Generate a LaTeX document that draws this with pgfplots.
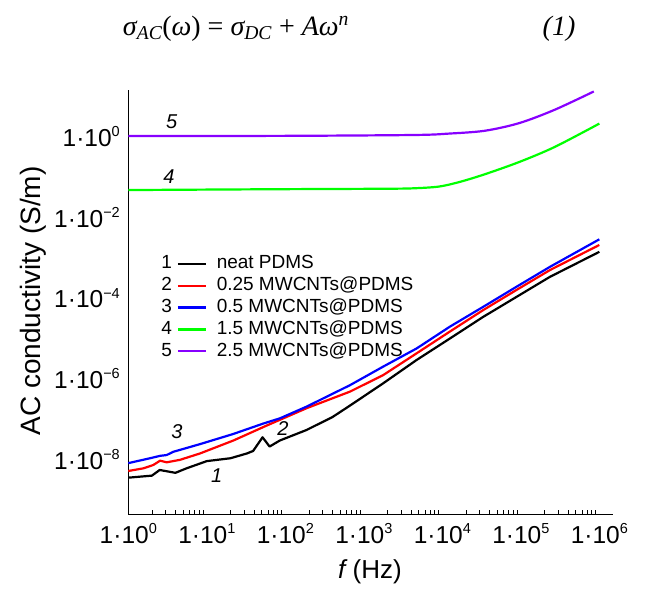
\documentclass[border=0pt]{standalone}
\usepackage{fontspec}
\setmainfont{Liberation Sans}
\newfontfamily\eqfont{Liberation Serif}
\usepackage{pgfplots}
\pgfplotsset{compat=1.18}
\newcommand\sups[1]{\raisebox{0.40em}{\fontsize{14.5}{14.5}\selectfont #1}}
\definecolor{cgreen}{RGB}{0,255,0}
\definecolor{cpurple}{RGB}{135,0,255}
\newcommand\tickfont{\fontsize{24.5}{26}\selectfont}
\newcommand\legfont{\fontsize{19}{21}\selectfont}
\newcommand\numfont{\fontsize{20}{22}\selectfont\itshape}
\pgfplotsset{numleg/.style={legend image code/.code={\node[anchor=east,inner sep=0pt,text=black,font=\legfont] at (-6pt,0pt) {#1}; \draw[##1, line width=2.2pt] (0pt,0pt) -- (28pt,0pt);}}}
\begin{document}
\begin{tikzpicture}
\path[use as bounding box] (0pt,0pt) rectangle (646pt,-590pt);
\node[anchor=base, font=\eqfont\fontsize{28}{30}\selectfont] at (236pt,-35pt)
  {\itshape σ\textsubscript{AC}\upshape(\itshape ω\upshape) = \itshape σ\textsubscript{DC} \upshape+ \itshape Aω\textsuperscript{n}};
\node[anchor=base, font=\eqfont\fontsize{28}{30}\selectfont\itshape] at (559pt,-35pt) {(1)};
\node[anchor=base, font=\fontsize{26}{28}\selectfont] at (370pt,-578pt) {\itshape f\upshape\ (Hz)};
\node[anchor=base, rotate=90, font=\fontsize{28}{30}\selectfont] at (40pt,-301pt) {AC conductivity (S/m)};
\begin{axis}[
  at={(128.3pt,-514pt)}, anchor=south west,
  scale only axis, width=484.4pt, height=424pt,
  xmode=log, ymode=log,
  xmin=1, xmax=1.48e6, ymin=4.79e-10, ymax=15.0,
  axis x line=bottom, axis y line=left,
  axis line style={-, line width=0.8pt, black},
  xtick={1,10,100,1000,10000,100000,1000000},
  xticklabels={1·10\sups{0},1·10\sups{1},1·10\sups{2},1·10\sups{3},1·10\sups{4},1·10\sups{5},1·10\sups{6}},
  minor xtick={2,3,4,5,6,7,8,9,20,30,40,50,60,70,80,90,200,300,400,500,600,700,800,900,2000,3000,4000,5000,6000,7000,8000,9000,2e4,3e4,4e4,5e4,6e4,7e4,8e4,9e4,2e5,3e5,4e5,5e5,6e5,7e5,8e5,9e5},
  ytick={1e-8,1e-6,1e-4,1e-2,1},
  yticklabels={1·10\sups{−8},1·10\sups{−6},1·10\sups{−4},1·10\sups{−2},1·10\sups{0}},
  yminorticks=false,
  major tick length=0pt,
  minor tick length=4pt,
  tick align=inside,
  tick style={black, line width=0.6pt},
  xticklabel style={font=\tickfont, anchor=base, inner sep=0pt, yshift=-29pt},
  yticklabel style={font=\tickfont, anchor=base east, inner sep=0pt, xshift=-8.3pt, yshift=-8.75pt},
  clip=false,
  legend cell align=left,
  legend style={draw=none, fill=none, at={(0.0683,0.611)}, anchor=north west,
    inner sep=0pt, outer sep=0pt, font=\legfont, row sep=4.3pt,
    nodes={inner sep=0pt, text height=13.6pt, text depth=4pt},
    /tikz/every odd column/.append style={column sep=9.7pt}},
]
\addplot[black, line width=2.2pt, line join=round, numleg=1] coordinates {
(1,3.80e-9) (2.0,4.27e-9) (2.51,5.89e-9) (3.98,5.01e-9) (5.5,6.46e-9) (10,9.77e-9)
(20,1.15e-8) (32.4,1.51e-8) (38.9,1.74e-8) (51.3,3.8e-8) (63.1,2.24e-8) (85.1,3.16e-8)
(186,5.75e-8) (398,1.2e-7) (661,2.29e-7) (1778,8.32e-7) (4677,3.09e-6) (12590,1.07e-5)
(33110,3.63e-5) (89130,1.15e-4) (234400,3.55e-4) (1e6,1.48e-3)};
\addlegendentry{neat PDMS}
\addplot[red, line width=2.2pt, line join=round, numleg=2] coordinates {
(1,5.56e-9) (1.55,6.46e-9) (2.08,7.83e-9) (2.54,1.0e-8) (3.08,9.12e-9) (4.55,1.05e-8)
(8.18,1.51e-8) (21.8,3.16e-8) (57.9,7.41e-8) (187.5,2.0e-7) (667,5.13e-7)
(1770,1.32e-6) (4721,4.57e-6) (12530,1.58e-5) (33270,5.37e-5) (88720,1.70e-4)
(235500,5.25e-4) (1e6,2.19e-3)};
\addlegendentry{0.25 MWCNTs@PDMS}
\addplot[blue, line width=2.2pt, line join=round, numleg=3] coordinates {
(1,8.71e-9) (1.89,1.15e-8) (2.54,1.32e-8) (3.08,1.38e-8) (3.74,1.66e-8) (8.18,2.57e-8)
(21.6,4.57e-8) (52.5,8.32e-8) (85.5,1.12e-7) (187.5,2.19e-7) (667,7.41e-7)
(1770,2.14e-6) (4721,6.03e-6) (12530,2.09e-5) (33270,6.46e-5) (88720,2.04e-4)
(235500,6.31e-4) (1e6,3.02e-3)};
\addlegendentry{0.5 MWCNTs@PDMS}
\addplot[cgreen, line width=2.2pt, smooth, tension=0.5, numleg=4] coordinates {
(1,0.0501) (72.4,0.0525) (2000,0.0540) (4467,0.0555) (9120,0.0612) (16600,0.0794) (34670,0.123)
(95500,0.248) (269200,0.582) (1e6,2.21)};
\addlegendentry{1.5 MWCNTs@PDMS}
\addplot[cpurple, line width=2.2pt, smooth, tension=0.5, numleg=5] coordinates {
(1,1.089) (100,1.10) (4467,1.156) (12300,1.253) (34670,1.469) (95500,2.275)
(269200,4.853) (851100,13.8)};
\addlegendentry{2.5 MWCNTs@PDMS}
\node[font=\numfont] at (axis cs:3.57,2.53) {5};
\node[font=\numfont] at (axis cs:3.29,0.105) {4};
\node[font=\numfont] at (axis cs:4.17,5.25e-8) {3};
\node[font=\numfont] at (axis cs:93,6.1e-8) {2};
\node[font=\numfont] at (axis cs:13.4,4.27e-9) {1};
\end{axis}
\end{tikzpicture}
\end{document}
